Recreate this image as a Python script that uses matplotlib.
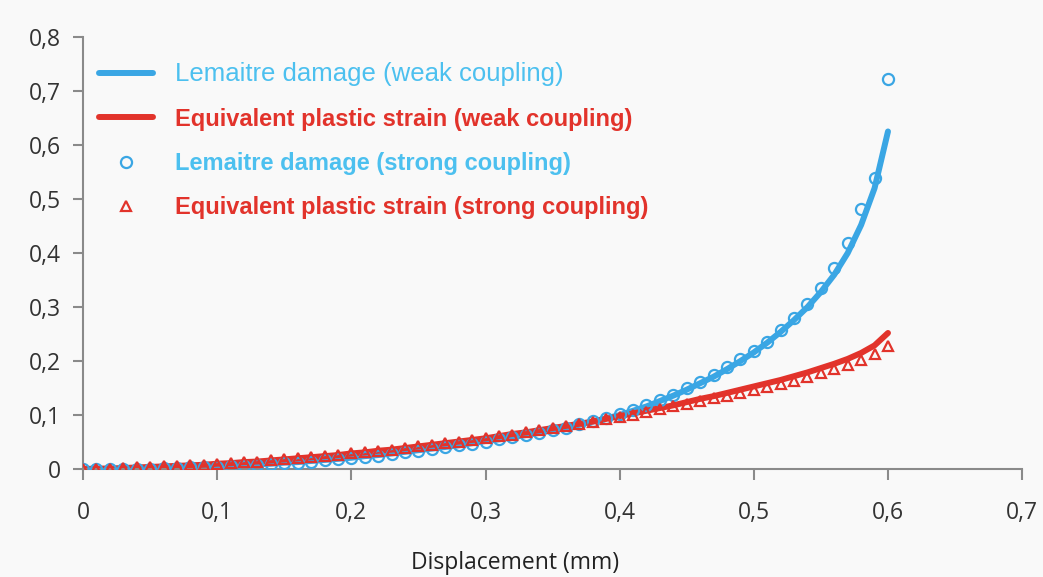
import matplotlib
matplotlib.use('Agg')
import matplotlib.pyplot as plt
from matplotlib.ticker import FuncFormatter

# displacement (mm), one point every 0.01 mm
displacement = [i / 100 for i in range(61)]

# Lemaitre damage, weak coupling (line)
damage_weak = [0.000, 0.000, 0.000, 0.001, 0.001, 0.002, 0.002, 0.003, 0.003, 0.004,
               0.005, 0.006, 0.007, 0.009, 0.010, 0.012, 0.013, 0.015, 0.017, 0.019,
               0.021, 0.024, 0.026, 0.029, 0.032, 0.035, 0.038, 0.041, 0.044, 0.048,
               0.052, 0.055, 0.059, 0.063, 0.067, 0.072, 0.077, 0.082, 0.088, 0.094,
               0.100, 0.108, 0.116, 0.126, 0.136, 0.147, 0.159, 0.171, 0.185, 0.200,
               0.216, 0.234, 0.254, 0.276, 0.300, 0.328, 0.360, 0.400, 0.452, 0.520,
               0.625]

# equivalent plastic strain, weak coupling (line)
strain_weak = [0.000, 0.001, 0.001, 0.002, 0.003, 0.004, 0.005, 0.006, 0.007, 0.008,
               0.010, 0.011, 0.013, 0.014, 0.016, 0.018, 0.020, 0.022, 0.024, 0.026,
               0.029, 0.031, 0.034, 0.036, 0.039, 0.042, 0.045, 0.048, 0.051, 0.054,
               0.057, 0.061, 0.065, 0.068, 0.072, 0.076, 0.080, 0.084, 0.088, 0.093,
               0.098, 0.103, 0.108, 0.113, 0.118, 0.124, 0.130, 0.135, 0.141, 0.147,
               0.153, 0.159, 0.165, 0.172, 0.179, 0.187, 0.195, 0.204, 0.215, 0.229,
               0.252]

# Lemaitre damage, strong coupling (circles)
damage_strong = [0.000, 0.000, 0.000, 0.000, 0.001, 0.001, 0.002, 0.002, 0.003, 0.003,
                 0.004, 0.005, 0.006, 0.008, 0.009, 0.011, 0.012, 0.014, 0.016, 0.018,
                 0.020, 0.023, 0.025, 0.028, 0.031, 0.034, 0.037, 0.040, 0.044, 0.047,
                 0.051, 0.055, 0.059, 0.063, 0.067, 0.072, 0.077, 0.083, 0.089, 0.095,
                 0.102, 0.110, 0.118, 0.128, 0.138, 0.150, 0.162, 0.175, 0.189, 0.204,
                 0.218, 0.236, 0.257, 0.280, 0.305, 0.336, 0.372, 0.418, 0.481, 0.538,
                 0.722]

# equivalent plastic strain, strong coupling (triangles)
strain_strong = [0.000, 0.001, 0.001, 0.002, 0.003, 0.004, 0.005, 0.006, 0.007, 0.008,
                 0.010, 0.011, 0.013, 0.014, 0.016, 0.018, 0.020, 0.022, 0.024, 0.026,
                 0.029, 0.031, 0.034, 0.036, 0.039, 0.042, 0.045, 0.048, 0.051, 0.054,
                 0.057, 0.061, 0.064, 0.068, 0.072, 0.076, 0.080, 0.084, 0.088, 0.092,
                 0.097, 0.101, 0.106, 0.111, 0.116, 0.121, 0.126, 0.131, 0.136, 0.141,
                 0.147, 0.152, 0.158, 0.164, 0.171, 0.178, 0.185, 0.193, 0.202, 0.213,
                 0.228]

blue = '#3aa6e4'
red = '#e2332b'
blue_text = '#4cc0ef'

fig = plt.figure(figsize=(10.43, 5.77), dpi=100, facecolor='#f9f9f9')
ax = fig.add_axes([0.0796, 0.187, 0.9004, 0.749])
ax.set_facecolor('#f9f9f9')

ax.plot(displacement, damage_weak, color=blue, lw=4.3, solid_capstyle='round',
        label='Lemaitre damage (weak coupling)', zorder=2)
ax.plot(displacement, strain_weak, color=red, lw=4.3, solid_capstyle='round',
        label='Equivalent plastic strain (weak coupling)', zorder=2)
ax.plot(displacement, damage_strong, ls='none', marker='o', ms=8, mfc='none',
        mec=blue, mew=1.6, label='Lemaitre damage (strong coupling)', zorder=3)
ax.plot(displacement, strain_strong, ls='none', marker='^', ms=7.5, mfc='none',
        mec=red, mew=1.6, label='Equivalent plastic strain (strong coupling)', zorder=3)

ax.set_xlim(0, 0.7)
ax.set_ylim(0, 0.8)
ax.set_xticks([i / 10 for i in range(8)])
ax.set_yticks([i / 10 for i in range(9)])
comma = FuncFormatter(lambda v, p: ('%g' % round(v, 2)).replace('.', ','))
ax.xaxis.set_major_formatter(comma)
ax.yaxis.set_major_formatter(comma)

for s in ['top', 'right']:
    ax.spines[s].set_visible(False)
for s in ['left', 'bottom']:
    ax.spines[s].set_color('#8a8a8a')
    ax.spines[s].set_linewidth(1.5)
ax.tick_params(axis='both', colors='#8a8a8a', width=1.5, length=7,
               labelcolor='#333333', labelsize=16.5)
ax.tick_params(axis='x', pad=15, length=8)
ax.tick_params(axis='y', pad=9)
for lab in ax.get_xticklabels() + ax.get_yticklabels():
    lab.set_family('Open Sans')

ax.set_xlabel('Displacement (mm)', family='Open Sans', fontsize=16.5,
              color='#222222')
ax.xaxis.set_label_coords(0.46, -0.19)

leg = ax.legend(loc='upper left', bbox_to_anchor=(-0.006, 0.99), frameon=False,
                handlelength=2.3, handletextpad=0.95, labelspacing=0.9,
                prop={'family': 'Liberation Sans', 'weight': 'bold', 'size': 17})
for txt, c in zip(leg.get_texts(), [blue_text, red, blue_text, red]):
    txt.set_color(c)
first = leg.get_texts()[0]
first.set_weight('normal')
first.set_fontsize(18.5)

fig.savefig('out.png', dpi=100, facecolor=fig.get_facecolor())
